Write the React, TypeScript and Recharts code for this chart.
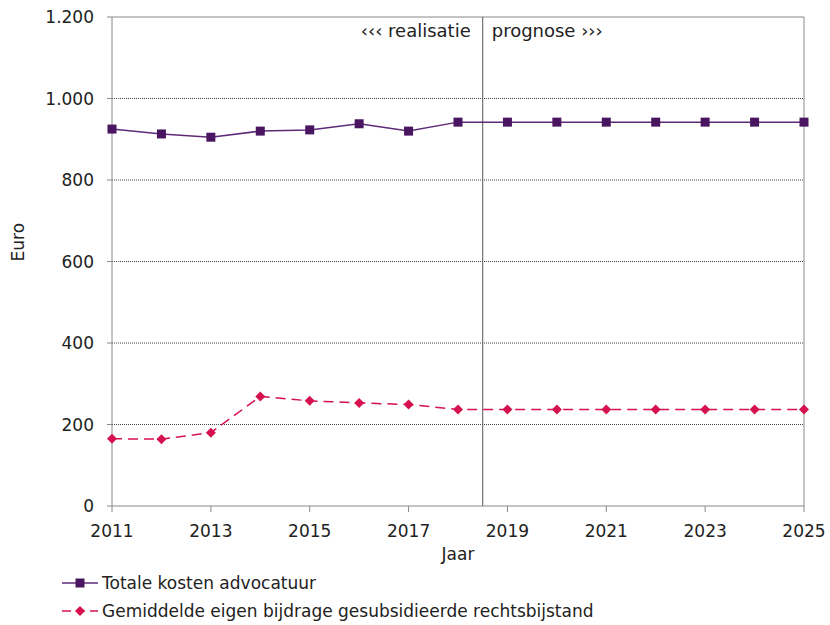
import React from "react";
import {
  CartesianGrid,
  LineChart,
  Line,
  ReferenceLine,
  XAxis,
  YAxis,
} from "recharts";

const years = [2011, 2012, 2013, 2014, 2015, 2016, 2017, 2018, 2019, 2020, 2021, 2022, 2023, 2024, 2025];
const totaleKosten = [925, 913, 905, 920, 923, 938, 920, 942, 942, 942, 942, 942, 942, 942, 942];
const eigenBijdrage = [165, 164, 180, 269, 258, 253, 249, 237, 237, 237, 237, 237, 237, 237, 237];
const xTicks = [2011, 2013, 2015, 2017, 2019, 2021, 2023, 2025];
const yTicks = [0, 200, 400, 600, 800, 1000, 1200];

const PURPLE = "#4a1560";
const PURPLE_LINE = "#5e2a78";
const PINK = "#d5124f";
const FONT = "'DejaVu Sans', Verdana, sans-serif";

const data = years.map((jaar, i) => ({
  jaar,
  totaal: totaleKosten[i],
  bijdrage: eigenBijdrage[i],
}));

const formatEuro = (v: number) =>
  String(v).replace(/\B(?=(\d{3})+(?!\d))/g, ".");

const SquareDot = (props: any) => {
  const { cx, cy } = props;
  if (cx == null || cy == null) return null;
  return <rect x={cx - 4.5} y={cy - 4.5} width={9} height={9} fill={PURPLE} />;
};

const DiamondDot = (props: any) => {
  const { cx, cy } = props;
  if (cx == null || cy == null) return null;
  return (
    <polygon
      points={`${cx},${cy - 5} ${cx + 5},${cy} ${cx},${cy + 5} ${cx - 5},${cy}`}
      fill={PINK}
    />
  );
};

// year label a bit lower under the axis
const YearTick = (props: any) => {
  const { x, y, payload } = props;
  return (
    <text x={x} y={y + 5} dy="0.71em" textAnchor="middle" fill="#222" fontSize={17} fontFamily={FONT}>
      {payload.value}
    </text>
  );
};

const ChartLegend = () => (
  <div
    style={{
      position: "absolute",
      left: 62,
      top: 569,
      fontFamily: FONT,
      fontSize: 17,
      color: "#222",
      lineHeight: "28px",
    }}
  >
    <div style={{ display: "flex", alignItems: "center" }}>
      <svg width={40} height={12}>
        <line x1={0} y1={6} x2={36} y2={6} stroke={PURPLE_LINE} strokeWidth={1.5} />
        <rect x={13.5} y={1.5} width={9} height={9} fill={PURPLE} />
      </svg>
      <span>Totale kosten advocatuur</span>
    </div>
    <div style={{ display: "flex", alignItems: "center" }}>
      <svg width={40} height={12}>
        <line x1={0} y1={6} x2={36} y2={6} stroke={PINK} strokeWidth={1.5} strokeDasharray="9 5" />
        <polygon points="18,1 23,6 18,11 13,6" fill={PINK} />
      </svg>
      <span>Gemiddelde eigen bijdrage gesubsidieerde rechtsbijstand</span>
    </div>
  </div>
);

export default function App() {
  return (
    <div style={{ position: "absolute", left: 0, top: 0, width: 830, height: 625, background: "#fff" }}>
      <LineChart
        width={830}
        height={625}
        data={data}
        margin={{ top: 17, right: 26, left: 0, bottom: 59 }}
      >
        <CartesianGrid
          vertical={false}
          horizontalValues={[200, 400, 600, 800, 1000]}
          stroke="#444"
          strokeDasharray="1 1"
        />
        <XAxis
          dataKey="jaar"
          type="number"
          domain={[2011, 2025]}
          ticks={xTicks}
          height={60}
          stroke="#888"
          tickSize={6}
          tickMargin={8}
          tick={<YearTick />}
          label={{ value: "Jaar", position: "insideBottom", offset: 6, fill: "#222", fontSize: 17, fontFamily: FONT }}
        />
        <YAxis
          type="number"
          domain={[0, 1200]}
          ticks={yTicks}
          width={112}
          stroke="#888"
          tickSize={5}
          tickMargin={13}
          tickFormatter={formatEuro}
          tick={{ fill: "#222", fontSize: 17, fontFamily: FONT }}
          label={{ value: "Euro", angle: -90, position: "insideLeft", offset: 18, fill: "#222", fontSize: 17, fontFamily: FONT }}
        />
        <ReferenceLine y={1200} stroke="#888" />
        <ReferenceLine x={2025} stroke="#888" />
        <ReferenceLine
          x={2018.5}
          stroke="#555"
          label={(props: any) => {
            const { viewBox } = props;
            return (
              <g fontFamily={FONT} fontSize={18} fill="#222">
                <text x={viewBox.x - 12} y={viewBox.y + 20} textAnchor="end">‹‹‹ realisatie</text>
                <text x={viewBox.x + 9} y={viewBox.y + 20} textAnchor="start">prognose ›››</text>
              </g>
            );
          }}
        />
        <Line
          dataKey="totaal"
          stroke={PURPLE_LINE}
          strokeWidth={1.5}
          dot={<SquareDot />}
          activeDot={false}
          isAnimationActive={false}
        />
        <Line
          dataKey="bijdrage"
          stroke={PINK}
          strokeWidth={1.5}
          strokeDasharray="10 6"
          dot={<DiamondDot />}
          activeDot={false}
          isAnimationActive={false}
        />
      </LineChart>
      <ChartLegend />
    </div>
  );
}
